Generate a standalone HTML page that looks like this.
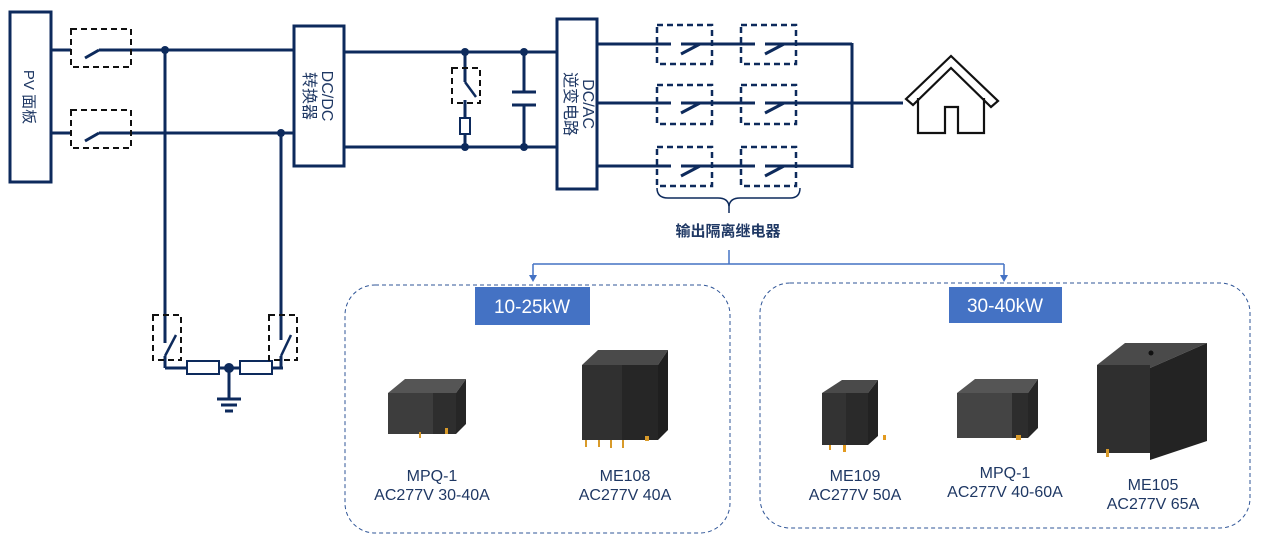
<!DOCTYPE html>
<html><head><meta charset="utf-8"><style>
html,body{margin:0;padding:0;background:#fff;}
svg{display:block;font-family:"Liberation Sans","Noto Sans CJK SC",sans-serif;}
</style></head><body>
<svg width="1265" height="538" viewBox="0 0 1265 538" xmlns="http://www.w3.org/2000/svg">
<g stroke="#0d2a5c" stroke-width="3" fill="none">
<rect x="10" y="12" width="41" height="170" fill="#fff"/>
<line x1="51" y1="50" x2="71" y2="50"/><line x1="99" y1="50" x2="294" y2="50"/>
<line x1="85" y1="58" x2="99" y2="50"/>
<line x1="51" y1="133" x2="71" y2="133"/><line x1="99" y1="133" x2="294" y2="133"/>
<line x1="85" y1="141" x2="99" y2="133"/>
<line x1="165" y1="50" x2="165" y2="340"/>
<line x1="281" y1="133" x2="281" y2="340"/>
<rect x="294" y="26" width="50" height="140" fill="#fff"/>
<line x1="344" y1="52" x2="556" y2="52"/>
<line x1="344" y1="147" x2="556" y2="147"/>
<line x1="465" y1="52" x2="465" y2="82"/><line x1="465" y1="82" x2="476" y2="97" stroke-width="2.5"/>
<line x1="465" y1="100" x2="465" y2="118"/>
<rect x="460" y="118" width="10" height="16" stroke-width="2"/>
<line x1="465" y1="134" x2="465" y2="147"/>
<line x1="524" y1="52" x2="524" y2="92"/><line x1="512" y1="92" x2="536" y2="92"/>
<line x1="512" y1="105" x2="536" y2="105"/><line x1="524" y1="105" x2="524" y2="147"/>
<rect x="557" y="19" width="40" height="170" fill="#fff"/>
<line x1="597" y1="44" x2="852" y2="44"/>
<line x1="597" y1="103" x2="903" y2="103"/>
<line x1="597" y1="166" x2="852" y2="166"/>
<line x1="852" y1="43" x2="852" y2="168"/>
<line x1="165" y1="340" x2="165" y2="343"/>
<line x1="165" y1="356" x2="176" y2="335" stroke-width="2.5"/>
<line x1="165" y1="356" x2="165" y2="368"/>
<line x1="165" y1="368" x2="187" y2="368"/>
<rect x="187" y="361" width="32" height="13" stroke-width="2"/>
<line x1="219" y1="368" x2="240" y2="368"/>
<rect x="240" y="361" width="32" height="13" stroke-width="2"/>
<line x1="272" y1="368" x2="283" y2="368"/>
<line x1="281" y1="356" x2="291" y2="335" stroke-width="2.5"/>
<line x1="281" y1="356" x2="281" y2="368"/>
<line x1="229" y1="368" x2="229" y2="399"/>
<line x1="217" y1="399" x2="241" y2="399"/>
<line x1="221" y1="405" x2="237" y2="405"/>
<line x1="225" y1="411" x2="233" y2="411"/>
</g>
<g fill="#0d2a5c">
<circle cx="165" cy="50" r="4"/><circle cx="281" cy="133" r="4"/>
<circle cx="465" cy="52" r="4"/><circle cx="465" cy="147" r="4"/>
<circle cx="524" cy="52" r="4"/><circle cx="524" cy="147" r="4"/>
<circle cx="229" cy="368" r="5"/>
</g>
<g stroke="#0d2a5c" stroke-width="3">
<line x1="681" y1="54" x2="700" y2="44"/><line x1="765" y1="54" x2="784" y2="44"/>
<line x1="681" y1="113" x2="700" y2="103"/><line x1="765" y1="113" x2="784" y2="103"/>
<line x1="681" y1="176" x2="700" y2="166"/><line x1="765" y1="176" x2="784" y2="166"/>
</g>
<g stroke="#fff" stroke-width="4">
<line x1="671" y1="44" x2="681" y2="44"/><line x1="755" y1="44" x2="765" y2="44"/>
<line x1="671" y1="103" x2="681" y2="103"/><line x1="755" y1="103" x2="765" y2="103"/>
<line x1="671" y1="166" x2="681" y2="166"/><line x1="755" y1="166" x2="765" y2="166"/>
</g>
<g stroke="#111" stroke-width="2" stroke-dasharray="6,4" fill="none">
<rect x="71" y="29" width="60" height="38"/>
<rect x="71" y="110" width="60" height="38"/>
<rect x="452" y="68" width="28" height="35"/>
<rect x="153" y="315" width="28" height="45"/>
<rect x="269" y="315" width="28" height="45"/>
</g>
<g stroke="#0d2a5c" stroke-width="2.5" stroke-dasharray="6,4" fill="none">
<rect x="657" y="25" width="55" height="39"/><rect x="741" y="25" width="55" height="39"/>
<rect x="657" y="85" width="55" height="39"/><rect x="741" y="85" width="55" height="39"/>
<rect x="657" y="147" width="55" height="39"/><rect x="741" y="147" width="55" height="39"/>
</g>
<g stroke="#111" stroke-width="2.2" fill="#fff">
<polygon points="906,99 951,56 998,101 991,107 951,68 913,105"/>
<polyline points="918,98 918,133 945,133 945,107 958,107 958,133 984,133 984,98" fill="none"/>
</g>
<path d="M657,188 Q657,198 668,198 L718,198 Q728,198 729,206 Q730,198 740,198 L790,198 Q800,198 800,188" stroke="#0d2a5c" stroke-width="1.5" fill="none"/>
<line x1="729" y1="205" x2="729" y2="213" stroke="#0d2a5c" stroke-width="1.5"/>
<text x="728" y="236" text-anchor="middle" font-size="15" font-weight="bold" fill="#1f3864">输出隔离继电器</text>
<g stroke="#4472c4" stroke-width="1.5" fill="none">
<line x1="729" y1="250" x2="729" y2="264"/>
<line x1="533" y1="264" x2="1004" y2="264"/>
<line x1="533" y1="264" x2="533" y2="276"/>
<line x1="1004" y1="264" x2="1004" y2="276"/>
</g>
<polygon points="529,275 537,275 533,282" fill="#4472c4"/>
<polygon points="1000,275 1008,275 1004,282" fill="#4472c4"/>
<rect x="345" y="285" width="385" height="248" rx="30" stroke="#2f5597" stroke-width="1" stroke-dasharray="4,3" fill="none"/>
<rect x="760" y="283" width="490" height="245" rx="30" stroke="#2f5597" stroke-width="1" stroke-dasharray="4,3" fill="none"/>
<rect x="475" y="287" width="115" height="38" fill="#4472c4"/>
<text x="532" y="313" text-anchor="middle" font-size="19" fill="#fff">10-25kW</text>
<rect x="949" y="287" width="113" height="36" fill="#4472c4"/>
<text x="1005" y="312" text-anchor="middle" font-size="19" fill="#fff">30-40kW</text>
<g fill="#1f3864" font-size="15">
<text transform="translate(24,97) rotate(90)" text-anchor="middle">PV 面板</text>
<text transform="translate(322,96) rotate(90)" text-anchor="middle" font-size="16">DC/DC</text>
<text transform="translate(304,96) rotate(90)" text-anchor="middle" font-size="16">转换器</text>
<text transform="translate(583,104) rotate(90)" text-anchor="middle" font-size="16">DC/AC</text>
<text transform="translate(565,104) rotate(90)" text-anchor="middle" font-size="16">逆变电路</text>
</g>
<g>
<polygon points="388,393 405,379 466,379 456,393" fill="#555"/>
<rect x="388" y="393" width="45" height="41" fill="#3d3d3d"/>
<rect x="433" y="393" width="23" height="41" fill="#2e2e2e"/>
<polygon points="456,393 466,379 466,424 456,434" fill="#262626"/>
<rect x="419" y="432" width="2" height="6" fill="#d89a2a"/><rect x="445" y="428" width="3" height="6" fill="#d89a2a"/>
<polygon points="582,365 598,350 668,350 658,365" fill="#4a4a4a"/>
<rect x="582" y="365" width="40" height="75" fill="#303030"/>
<rect x="622" y="365" width="36" height="75" fill="#262626"/>
<polygon points="658,365 668,350 668,430 658,440" fill="#1f1f1f"/>
<g fill="#d89a2a"><rect x="585" y="440" width="2" height="7"/><rect x="598" y="440" width="2" height="7"/><rect x="610" y="440" width="2" height="8"/><rect x="622" y="440" width="2" height="8"/><rect x="645" y="436" width="4" height="5"/></g>
<polygon points="822,393 842,380 878,380 868,393" fill="#4a4a4a"/>
<rect x="822" y="393" width="24" height="52" fill="#333"/>
<rect x="846" y="393" width="22" height="52" fill="#2a2a2a"/>
<polygon points="868,393 878,380 878,436 868,445" fill="#222"/>
<g fill="#e29a20"><rect x="829" y="445" width="2" height="5"/><rect x="843" y="445" width="3" height="7"/><rect x="883" y="435" width="3" height="5"/></g>
<polygon points="957,393 975,379 1038,379 1028,393" fill="#555"/>
<rect x="957" y="393" width="55" height="45" fill="#444"/>
<rect x="1012" y="393" width="16" height="45" fill="#2d2d2d"/>
<polygon points="1028,393 1038,379 1038,428 1028,438" fill="#262626"/>
<rect x="1016" y="435" width="5" height="5" fill="#d89a2a"/>
<polygon points="1097,365 1125,343 1207,343 1150,368" fill="#4a4a4a"/>
<polygon points="1150,368 1207,343 1207,441 1150,460" fill="#232323"/>
<rect x="1097" y="365" width="53" height="88" fill="#2f2f2f"/>
<circle cx="1151" cy="353" r="2.5" fill="#111"/>
<rect x="1106" y="449" width="3" height="8" fill="#d89a2a"/>
</g>
<g fill="#1f3864" font-size="16" text-anchor="middle">
<text x="432" y="481">MPQ-1</text><text x="432" y="500">AC277V 30-40A</text>
<text x="625" y="481">ME108</text><text x="625" y="500">AC277V 40A</text>
<text x="855" y="481">ME109</text><text x="855" y="500">AC277V 50A</text>
<text x="1005" y="478">MPQ-1</text><text x="1005" y="497">AC277V 40-60A</text>
<text x="1153" y="490">ME105</text><text x="1153" y="509">AC277V 65A</text>
</g>
</svg>
</body></html>
